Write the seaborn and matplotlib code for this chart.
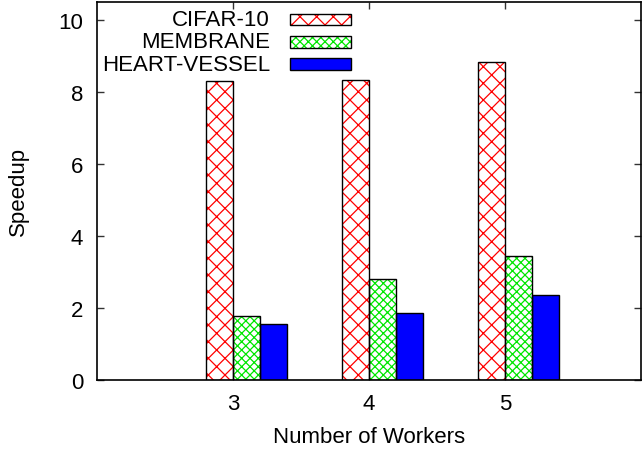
import matplotlib
matplotlib.use("Agg")
import matplotlib.pyplot as plt
from matplotlib.patches import Rectangle
import numpy as np
import pandas as pd
import seaborn as sns

workers = [3, 4, 5]
datasets = ["CIFAR-10", "MEMBRANE", "HEART-VESSEL"]
cifar10 = [8.30, 8.33, 8.82]
membrane = [1.78, 2.80, 3.45]
heart_vessel = [1.55, 1.86, 2.35]

face_colors = ["white", "white", "#0000ff"]
hatch_colors = ["#ff0000", "#00e600", "#0000ff"]
hatches = ["xx", "xxxx", ""]

sns.set_style("ticks")
plt.rcParams["font.family"] = ["Liberation Sans", "DejaVu Sans"]
plt.rcParams["hatch.linewidth"] = 0.9
plt.rcParams["text.color"] = "black"
plt.rcParams["axes.labelcolor"] = "black"
plt.rcParams["xtick.labelcolor"] = "black"
plt.rcParams["ytick.labelcolor"] = "black"

df = pd.DataFrame({
    "workers": [str(w) for w in workers] * 3,
    "speedup": cifar10 + membrane + heart_vessel,
    "dataset": [d for d in datasets for _ in workers],
})

fig = plt.figure(figsize=(6.42, 4.52), dpi=100)
ax = fig.add_axes([97 / 642, 1 - 381 / 452, 544 / 642, 378.3 / 452])

sns.barplot(data=df, x="workers", y="speedup", hue="dataset", hue_order=datasets,
            palette=face_colors, width=0.6, legend=False, ax=ax,
            edgecolor="black", linewidth=1, saturation=1)

# hatch colour comes from the edge colour, so draw the black outline on top separately
for k, container in enumerate(ax.containers):
    if not hatches[k]:
        continue
    for bar in container:
        bar.set_edgecolor(hatch_colors[k])
        bar.set_hatch(hatches[k])
        bar.set_linewidth(0)
        ax.add_patch(Rectangle(bar.get_xy(), bar.get_width(), bar.get_height(),
                               fill=False, edgecolor="black", linewidth=1,
                               zorder=bar.get_zorder() + 0.1))

bar_w = 0.6 / len(datasets)
ticks = np.arange(len(workers)) - bar_w / 2
ax.set_xticks(ticks, labels=[str(w) for w in workers])
ax.set_xlim(ticks[0] - 1, ticks[-1] + 1)
ax.set_ylim(0, 10.5)
ax.set_yticks(np.arange(0, 11, 2))

ax.tick_params(axis="both", direction="in", length=5, width=1, color="#333333",
               labelsize=16, labelcolor="black", top=True, right=True)
ax.tick_params(axis="y", pad=10)
ax.tick_params(axis="x", pad=9)
for s in ax.spines.values():
    s.set_visible(True)
    s.set_linewidth(1.2)
    s.set_color("black")

ax.set_xlabel("Number of Workers", fontsize=16, labelpad=9, color="black")
ax.set_ylabel("Speedup", fontsize=16, labelpad=21, color="black")

# legend in gnuplot style: right aligned text, sample box to the right
row_y = [0.953, 0.894, 0.835]
box_h = 0.031
for k, name in enumerate(datasets):
    ax.text(0.318, row_y[k], name, transform=ax.transAxes, ha="right", va="center",
            fontsize=16, color="black")
    ax.add_patch(Rectangle((0.355, row_y[k] - box_h / 2), 0.112, box_h, transform=ax.transAxes,
                           facecolor=face_colors[k], edgecolor=hatch_colors[k],
                           hatch=hatches[k] or None, linewidth=0, zorder=3))
    ax.add_patch(Rectangle((0.355, row_y[k] - box_h / 2), 0.112, box_h, transform=ax.transAxes,
                           fill=False, edgecolor="black", linewidth=1, zorder=3.1))

fig.savefig("out.png", dpi=100)
